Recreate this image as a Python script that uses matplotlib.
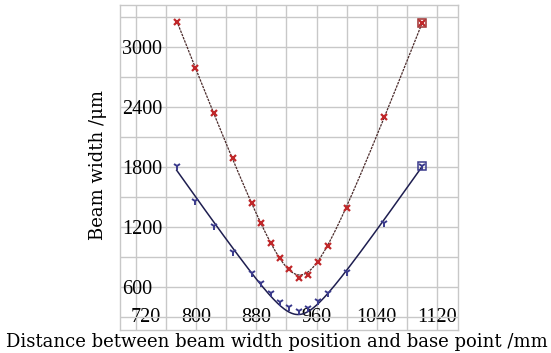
import numpy as np
import matplotlib
matplotlib.use("Agg")
import matplotlib.pyplot as plt
from matplotlib.ticker import MultipleLocator
import matplotlib.transforms as mtrans

# ---- data ----
z_red = [774, 799, 824, 849, 874, 886, 899, 912, 924, 937, 949, 962, 975, 1000, 1050, 1100]
w_red = [3247, 2793, 2337, 1887, 1443, 1240, 1043, 890, 780, 687, 720, 853, 1010, 1393, 2297, 3240]
z_blue = [774, 799, 823, 849, 874, 886, 899, 912, 924, 937, 949, 962, 975, 1000, 1050, 1100]
w_blue = [1813, 1463, 1207, 953, 743, 637, 537, 453, 397, 360, 387, 463, 543, 753, 1237, 1813]
x_ticks = [720, 800, 880, 960, 1040, 1120]
y_ticks = [600, 1200, 1800, 2400, 3000]
x_label = "Distance between beam width position and base point /mm"
y_label = "Beam width /μm"

plt.rcParams['font.family'] = ['Liberation Serif', 'DejaVu Serif']
FS = 14.5
LABEL_FONT = ['DejaVu Serif']
LFS = 13.0

W, H = 551, 353
fig = plt.figure(figsize=(W / 100, H / 100), dpi=100)
ax = fig.add_axes([120 / W, (H - 330) / H, (458 - 120) / W, (330 - 5) / H])

ax.set_xlim(698.7, 1148)
ax.set_ylim(170, 3420)

def fit_curve(z, w):
    z = np.asarray(z, float)
    w = np.asarray(w, float)
    c = np.polyfit(z, w ** 2, 2)
    zz = np.linspace(z.min(), z.max(), 300)
    return zz, np.sqrt(np.polyval(c, zz))

zz, ww = fit_curve(z_red, w_red)
ax.plot(zz, ww, color='#4a2a2a', lw=0.9, ls=(0, (2, 0.8)), zorder=3)
zz, ww = fit_curve(z_blue, w_blue)
ax.plot(zz, ww, color='#1e1e50', lw=1.1, zorder=3)

ax.plot(z_red, w_red, ls='none', marker='x', ms=4.5, mew=1.6, color='#c0282a', zorder=4)
ax.plot(z_blue, w_blue, ls='none', marker='1', ms=6, mew=1.4, color='#3a3a8c', zorder=4)
ax.plot(z_red[-1:], w_red[-1:], ls='none', marker='s', ms=5.5, mfc='none', mew=1.1, mec='#a03030', zorder=5)
ax.plot(z_blue[-1:], w_blue[-1:], ls='none', marker='s', ms=5.5, mfc='none', mew=1.1, mec='#3a3a8c', zorder=5)

ax.xaxis.set_major_locator(plt.FixedLocator(x_ticks))
ax.yaxis.set_major_locator(plt.FixedLocator(y_ticks))
ax.xaxis.set_minor_locator(MultipleLocator(40))
ax.yaxis.set_minor_locator(MultipleLocator(300))
ax.grid(which='both', color='#c8c8c8', lw=1.0, zorder=0)
ax.set_axisbelow(True)
for s in ax.spines.values():
    s.set_color('#c8c8c8')
    s.set_linewidth(1.0)

ax.tick_params(which='both', length=0)
ax.tick_params(axis='x', pad=-16, labelsize=FS)
ax.tick_params(axis='y', pad=-1.5, labelsize=FS)
ax.set_xticklabels([str(v) for v in x_ticks])
ax.set_yticklabels([str(v) for v in y_ticks])
for lab in ax.get_yticklabels():
    lab.set_horizontalalignment('left')
labs = ax.get_xticklabels()
labs[0].set_transform(labs[0].get_transform() + mtrans.ScaledTranslation(10 / 100, 0, fig.dpi_scale_trans))

fig.text(277 / W, 1 - 342 / H, x_label, ha='center', va='center', fontsize=LFS, family=LABEL_FONT)
fig.text(98 / W, 1 - 165 / H, y_label, ha='center', va='center', rotation=90, fontsize=LFS, family=LABEL_FONT)

fig.savefig('out.png', dpi=100)
